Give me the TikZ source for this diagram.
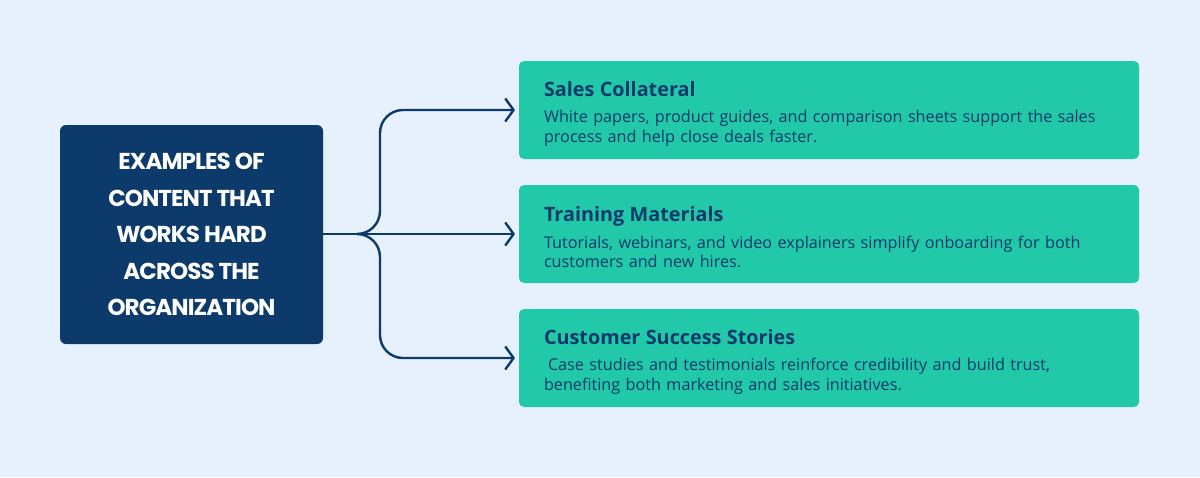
\documentclass[tikz,border=0pt]{standalone}
\usepackage{fontspec}
\setmainfont{Open Sans}
\newfontfamily\headfont[LetterSpace=-4]{Poppins}
\usetikzlibrary{arrows.meta}

\definecolor{pagebg}{HTML}{E7F0FD}
\definecolor{navy}{HTML}{0B3A6B}
\definecolor{mint}{HTML}{22C9A9}

\newcommand{\cardtitle}[1]{{\fontsize{19.8}{20}\selectfont\bfseries\rule{0pt}{22pt}#1}}

\begin{document}
\begin{tikzpicture}[x=1pt, y=-1pt,
  hub/.style={fill=navy, rounded corners=6pt, minimum width=263pt, minimum height=219pt,
              text=white, align=center, font=\headfont\bfseries\fontsize{23}{36.5}\selectfont},
  card/.style={fill=mint, rounded corners=5pt, minimum width=620pt, minimum height=98pt,
               text width=570pt, inner xsep=25pt, align=left, text=navy,
               font=\fontsize{16.2}{19.5}\selectfont},
  link/.style={draw=navy, line width=2.4pt, shorten >=4pt,
               -{Straight Barb[length=8pt, width=22pt, round]}},
]
  \fill[pagebg] (0,0) rectangle (1200,477);

  \node[hub] (src) at (191.5,234.5) {EXAMPLES OF\\CONTENT THAT\\WORKS HARD\\ACROSS THE\\ORGANIZATION};

  \node[card] (sales) at (829,110) {\cardtitle{Sales Collateral}\\[7pt]
    White papers, product guides, and comparison sheets support the sales\\
    process and help close deals faster.};
  \node[card] (train) at (829,234) {\cardtitle{Training Materials}\\[7pt]
    Tutorials, webinars, and video explainers simplify onboarding for both\\
    customers and new hires.};
  \node[card] (stories) at (829,358) {\cardtitle{Customer Success Stories}\\[7pt]
    \hspace*{4pt}Case studies and testimonials reinforce credibility and build trust,\\
    benefiting both marketing and sales initiatives.};

  % branching connectors
  \coordinate (fork) at (357,234);
  \coordinate (spine) at (380,234);
  \draw[link] (src.east |- train.west) -- (train.west);
  \draw[link, rounded corners=23pt] (fork) -- (spine) |- (sales.west);
  \draw[link, rounded corners=23pt] (fork) -- (spine) |- (stories.west);
\end{tikzpicture}
\end{document}
